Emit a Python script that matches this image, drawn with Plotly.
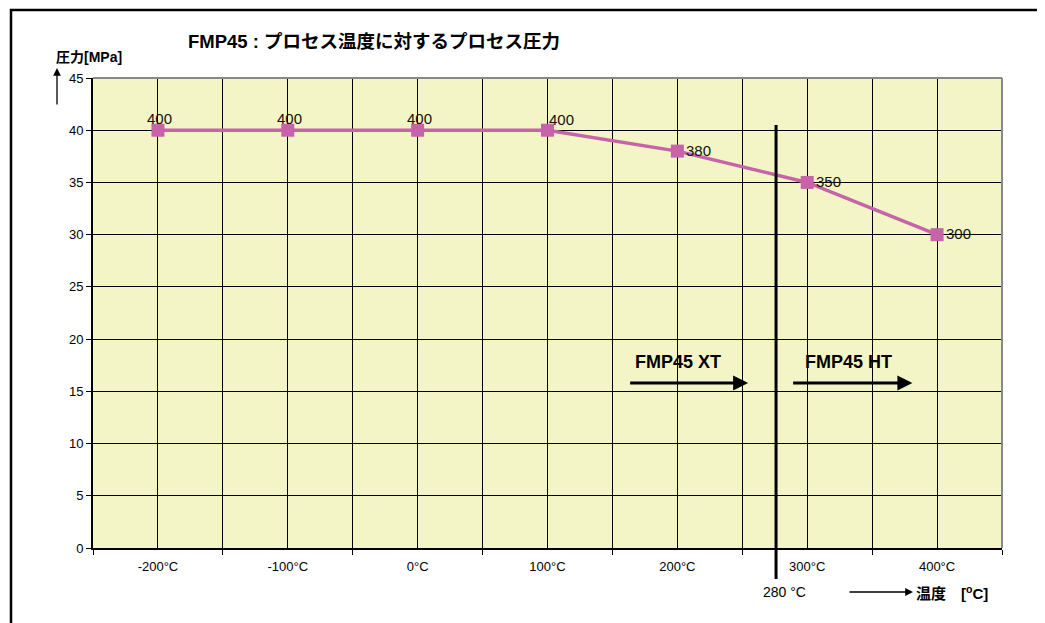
import plotly.graph_objects as go

# ---- data ----
temps = [-200, -100, 0, 100, 200, 300, 400]
tick_labels = ["-200°C", "-100°C", "0°C", "100°C", "200°C", "300°C", "400°C"]
pressure = [40, 40, 40, 40, 38, 35, 30]
point_labels = ["400", "400", "400", "400", "380", "350", "300"]
boundaries = [-250, -150, -50, 50, 150, 250, 350, 450]
y_ticks = [0, 5, 10, 15, 20, 25, 30, 35, 40, 45]
xt_ht_limit = 276  # drawn position of the 280 °C divider

FONT = "Arial, 'Liberation Sans', 'Noto Sans CJK JP', sans-serif"
PINK = "#C663A9"

# page offset (body margin) and plot area in screen pixels
OFF = 8
FW, FH = 1045 - OFF, 623 - OFF
L, R, T, B = 93, 1002, 78, 548
W, H = R - L, B - T
def px(x):
    return (x - L) / W
def py(y):
    return (B - y) / H

fig = go.Figure()
fig.add_trace(go.Scatter(
    x=temps, y=pressure, mode="lines+markers",
    line=dict(color=PINK, width=3.5),
    marker=dict(symbol="square", size=13, color=PINK),
    cliponaxis=False, showlegend=False,
))

fig.update_layout(
    width=FW, height=FH,
    margin=dict(l=L - OFF, r=FW - (R - OFF), t=T - OFF, b=FH - (B - OFF), pad=0),
    paper_bgcolor="white", plot_bgcolor="#F3F5C6",
    font=dict(family=FONT, color="#000"),
    xaxis=dict(
        range=[-250, 450], tickvals=temps, ticktext=tick_labels,
        ticks="", showgrid=True, gridcolor="#000", gridwidth=1,
        showline=True, linecolor="#000", linewidth=2,
        tickfont=dict(size=13, family=FONT), ticklabelstandoff=5,
        minor=dict(tickvals=boundaries, showgrid=True, gridcolor="#000",
                   gridwidth=1, ticks="outside", ticklen=5, tickcolor="#000"),
        zeroline=False, fixedrange=True,
    ),
    yaxis=dict(
        range=[0, 45], tickvals=y_ticks, showgrid=True, gridcolor="#000",
        gridwidth=1, showline=True, linecolor="#000", linewidth=2,
        ticks="outside", ticklen=5, tickcolor="#000",
        tickfont=dict(size=13, family=FONT), zeroline=False, fixedrange=True,
    ),
)

shapes = []
# grey plot-area shadow edge (top/right)
shapes.append(dict(type="line", xref="paper", yref="paper", x0=0, x1=1, y0=1, y1=1,
                   line=dict(color="#888", width=2)))
shapes.append(dict(type="line", xref="paper", yref="paper", x0=1, x1=1, y0=0, y1=1,
                   line=dict(color="#888", width=2)))
# outer frame
shapes.append(dict(type="rect", xref="paper", yref="paper",
                   x0=px(11), x1=px(1039), y0=py(650), y1=py(10),
                   line=dict(color="#000", width=2.5), layer="above"))
# XT/HT divider
shapes.append(dict(type="line", xref="x", yref="paper", x0=xt_ht_limit, x1=xt_ht_limit,
                   y0=py(579), y1=py(125), line=dict(color="#000", width=3)))
fig.update_layout(shapes=shapes)

ann = []
# data labels
for i, (xv, yv, lab) in enumerate(zip(temps, pressure, point_labels)):
    if i < 3:
        a = dict(xanchor="center", xshift=2, yshift=12)
    elif i == 3:
        a = dict(xanchor="left", xshift=-1, yshift=11)
    else:
        a = dict(xanchor="left", xshift=7, yshift=1)
    ann.append(dict(text=lab, xref="x", yref="y", x=xv, y=yv, showarrow=False,
                    yanchor="middle", font=dict(size=15, color="#111", family=FONT), **a))

ann.append(dict(text="<b>FMP45 : プロセス温度に対するプロセス圧力</b>", xref="paper", yref="paper",
                x=px(374), y=py(42), xanchor="center", yanchor="middle",
                showarrow=False, font=dict(size=18.5, family=FONT)))
ann.append(dict(text="<b>圧力[MPa]</b>", xref="paper", yref="paper", x=px(54), y=py(57),
                xanchor="left", yanchor="middle", showarrow=False, font=dict(size=14, family=FONT)))
# up arrow at y axis
ann.append(dict(text="", xref="paper", yref="paper", x=px(57), y=py(68),
                ax=0, ay=38, showarrow=True,
                arrowhead=2, arrowsize=1.2, arrowwidth=1.3, arrowcolor="#000"))
# bottom labels
ann.append(dict(text="280 °C", xref="paper", yref="paper", x=px(784), y=py(592),
                xanchor="center", yanchor="middle",
                showarrow=False, font=dict(size=14, family=FONT)))
ann.append(dict(text="", xref="paper", yref="paper", x=px(913), y=py(592),
                ax=-65, ay=0, showarrow=True,
                arrowhead=2, arrowsize=1.2, arrowwidth=1.3, arrowcolor="#000"))
ann.append(dict(text="<b>温度　[<sup>o</sup>C]</b>", xref="paper", yref="paper", x=px(914),
                y=py(592), xanchor="left", yanchor="middle",
                showarrow=False, font=dict(size=15, family=FONT)))
# XT / HT
for label, tx, a0, a1 in [("FMP45 XT", 165.5, 162.5, 254.5), ("FMP45 HT", 296.5, 288, 381)]:
    ann.append(dict(text=f"<b>{label}</b>", xref="x", yref="y", x=tx, y=17.8,
                    xanchor="left", yanchor="middle",
                    showarrow=False, font=dict(size=18, family=FONT)))
    ann.append(dict(text="", xref="x", yref="y", x=a1, y=15.8, ax=a0, ay=15.8,
                    axref="x", ayref="y", showarrow=True, arrowhead=2,
                    arrowsize=1, arrowwidth=3, arrowcolor="#000"))
fig.update_layout(annotations=ann)

fig.write_html("out.html")
